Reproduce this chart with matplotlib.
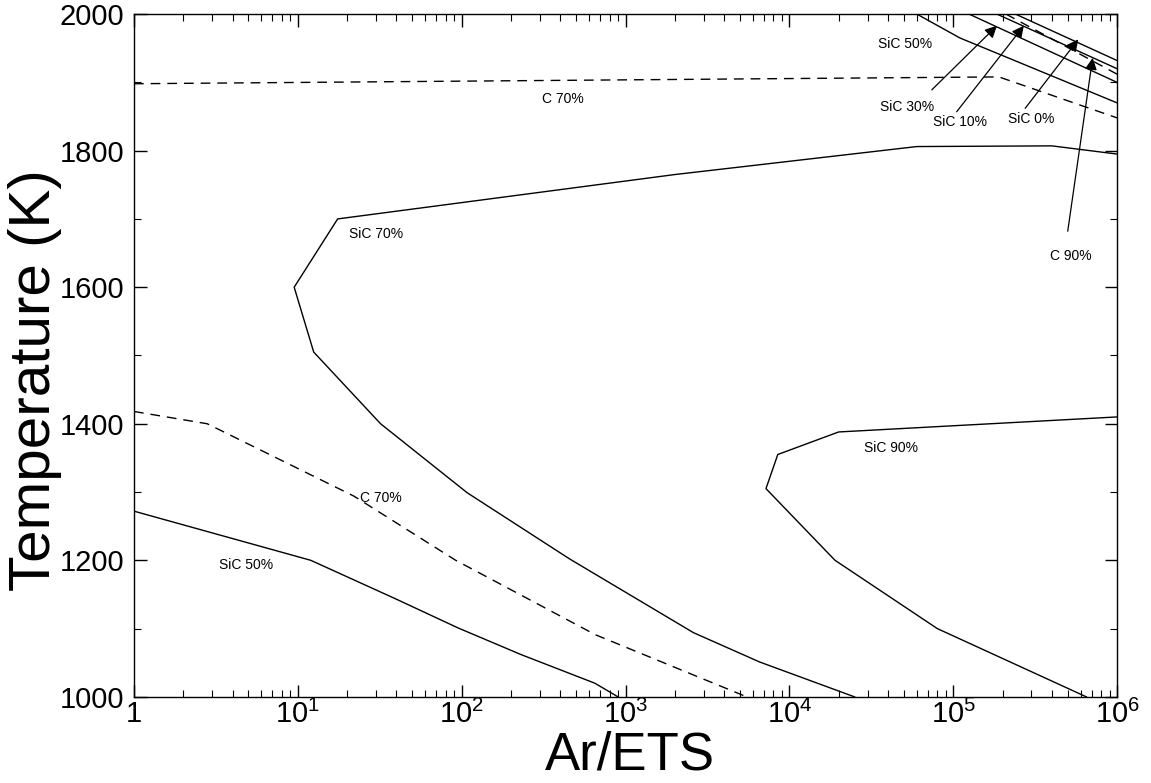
import matplotlib
matplotlib.use('Agg')
import matplotlib.pyplot as plt
from matplotlib.ticker import FixedLocator, FixedFormatter, LogLocator, NullFormatter

plt.rcParams['font.family'] = ['Liberation Sans', 'DejaVu Sans']
plt.rcParams['mathtext.fontset'] = 'custom'
plt.rcParams['mathtext.rm'] = 'Liberation Sans'
plt.rcParams['mathtext.it'] = 'Liberation Sans'

# contour lines (Ar/ETS ratio, temperature in K)
sic50_low_x = [1, 12, 40, 95, 230, 650, 900]
sic50_low_T = [1272, 1200, 1143, 1101, 1062, 1020, 1000]

c70_low_x = [1, 2.8, 22, 92, 655, 5500]
c70_low_T = [1418, 1400, 1294, 1200, 1091, 1000]

sic70_x = [2.5e4, 6.6e3, 2.6e3, 456, 108, 32, 12.5, 9.5, 17.5, 2e3, 6e4, 4e5, 1e6]
sic70_T = [1000, 1051, 1094, 1202, 1299, 1400, 1505, 1600, 1700, 1765, 1806, 1807, 1795]

sic90_x = [1e6, 2e4, 8.5e3, 7.2e3, 1.9e4, 8e4, 6.5e5]
sic90_T = [1410, 1388, 1355, 1305, 1200, 1100, 1000]

c70_up_x = [1, 1.9e5, 1e6]
c70_up_T = [1898, 1908, 1848]

sic50_up_x = [6e4, 1.1e5, 1e6]
sic50_up_T = [2000, 1965, 1870]
sic30_x = [1.25e5, 1e6]
sic30_T = [2000, 1900]
sic10_x = [1.85e5, 1e6]
sic10_T = [2000, 1920]
sic0_x = [2.4e5, 1e6]
sic0_T = [2000, 1932]
c90_x = [2.1e5, 1e6]
c90_T = [2000, 1912]

# plain labels: (text, x, T)
labels = [
    ('SiC 70%', 30, 1678),
    ('SiC 90%', 4.2e4, 1365),
    ('C 70%', 32, 1291),
    ('SiC 50%', 4.8, 1193),
    ('C 70%', 415, 1876),
    ('SiC 50%', 5.1e4, 1956),
]
# arrow labels: (text, text x, text T, tail x, tail T, tip x, tip T)
arrow_labels = [
    ('SiC 30%', 5.2e4, 1864, 7.4e4, 1889, 1.85e5, 1983),
    ('SiC 10%', 1.1e5, 1842, 1.05e5, 1857, 2.7e5, 1983),
    ('SiC 0%', 3.0e5, 1846, 2.75e5, 1862, 5.8e5, 1963),
    ('C 90%', 5.2e5, 1645, 5.0e5, 1682, 7.1e5, 1936),
]

xticks = [1, 1e1, 1e2, 1e3, 1e4, 1e5, 1e6]
xticklabels = ['1', '$10^{1}$', '$10^{2}$', '$10^{3}$', '$10^{4}$', '$10^{5}$', '$10^{6}$']
yticks = [1000, 1200, 1400, 1600, 1800, 2000]

fig = plt.figure(figsize=(11.51, 7.83), dpi=100)
ax = fig.add_axes([0.1164, 0.110, 0.8541, 0.872])

solid = dict(color='black', lw=1.0)
dashed = dict(color='black', lw=1.0, linestyle=(0, (7, 5)))

ax.plot(sic50_low_x, sic50_low_T, **solid)
ax.plot(c70_low_x, c70_low_T, **dashed)
ax.plot(sic70_x, sic70_T, **solid)
ax.plot(sic90_x, sic90_T, **solid)
ax.plot(c70_up_x, c70_up_T, **dashed)
ax.plot(sic50_up_x, sic50_up_T, **solid)
ax.plot(sic30_x, sic30_T, **solid)
ax.plot(sic10_x, sic10_T, **solid)
ax.plot(sic0_x, sic0_T, **solid)
ax.plot(c90_x, c90_T, **dashed)

for txt, x, t in labels:
    ax.text(x, t, txt, fontsize=10, ha='center', va='center')

for txt, tx, tt, ax0, at0, ax1, at1 in arrow_labels:
    ax.text(tx, tt, txt, fontsize=10, ha='center', va='center')
    ax.annotate('', xy=(ax1, at1), xytext=(ax0, at0),
                arrowprops=dict(arrowstyle='-|>', color='black', lw=0.9,
                                mutation_scale=18, shrinkA=0, shrinkB=0))

ax.set_xscale('log')
ax.set_xlim(1, 1e6)
ax.set_ylim(1000, 2000)
ax.xaxis.set_major_locator(FixedLocator(xticks))
ax.xaxis.set_major_formatter(FixedFormatter(xticklabels))
ax.xaxis.set_minor_locator(LogLocator(base=10, subs=range(2, 10), numticks=20))
ax.xaxis.set_minor_formatter(NullFormatter())
ax.yaxis.set_major_locator(FixedLocator(yticks))
ax.yaxis.set_minor_locator(FixedLocator(range(1000, 2001, 100)))

ax.tick_params(which='both', direction='in', top=True, right=True, labelsize=21)
ax.tick_params(which='major', length=9, width=1)
ax.tick_params(which='minor', length=5, width=0.8)
ax.tick_params(axis='x', pad=2)
ax.tick_params(axis='y', pad=7)
for s in ax.spines.values():
    s.set_linewidth(1.0)

fig.text(35 / 1151, 1 - 380 / 783, 'Temperature (K)', rotation=90,
         fontsize=42, ha='center', va='center')
fig.text(630 / 1151, 1 - 781 / 783, 'Ar/ETS', fontsize=38, ha='center', va='bottom')

fig.savefig('out.png', dpi=100)
